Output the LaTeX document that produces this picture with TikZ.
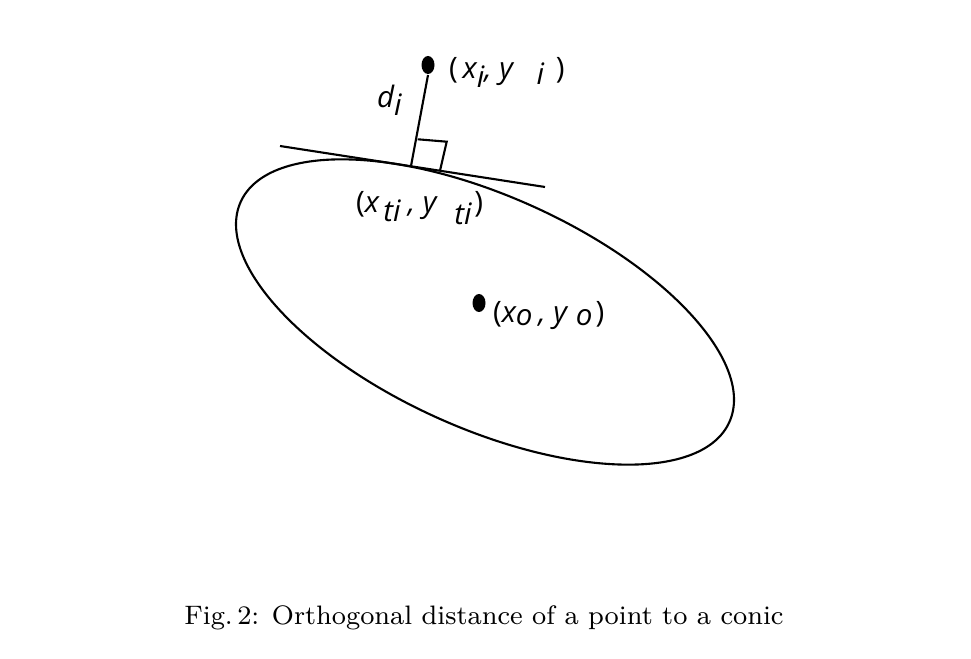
\documentclass[tikz,border=0pt]{standalone}
\usepackage{fontspec}
\usepackage{tikz}
\usetikzlibrary{shapes.geometric}
\newfontfamily\lblfont{Open Sans}
\newcommand{\lsub}[2][-0.3em]{\raisebox{#1}{#2}}
\newcommand{\lp}{{\upshape(}}
\newcommand{\rp}{{\upshape)}}

\tikzset{
    dot/.style={ellipse, fill, inner sep=0pt, minimum width=0.13cm, minimum height=0.18cm},
    lbl/.style={anchor=base west, inner sep=0pt, font=\lblfont\itshape\fontsize{8.4}{9}\selectfont},
}

\begin{document}
\begin{tikzpicture}[line width=0.6pt]
                \useasboundingbox (0,0) rectangle (9.71,-6.59);
                \draw[rotate around={-24.25:(4.85,-3.12)}] (4.85,-3.12) ellipse [x radius=2.68, y radius=1.16];
                \coordinate (tl) at (2.80,-1.46);
                \coordinate (tr) at (5.45,-1.87);
                \draw (tl) -- (tr);
                \coordinate (foot) at (4.11,-1.66);
                \node[dot] (pi) at (4.28,-0.65) {};
                \node[dot] (po) at (4.79,-3.03) {};
                \draw (pi.south) -- (foot);
                \draw (4.177,-1.393) -- (4.467,-1.417) -- (4.40,-1.707);
                \node[lbl] (lpi) at (4.48,-0.79) {\lp\,x\lsub{i}, y\hspace{0.8em}\lsub[-0.2em]{i}\hspace{0.4em}\rp};
                \node[lbl] (ldi) at (3.76,-1.08) {d\lsub[-0.25em]{i}};
                \node[lbl] (lti) at (3.55,-2.13) {\lp x\hspace{0.15em}\lsub{ti}\hspace{0.25em}, y\hspace{0.6em}\lsub[-0.4em]{ti}\hspace{0.1em}\rp};
                \node[lbl] (lpo) at (4.92,-3.23) {\lp x\lsub[-0.1em]{o}\hspace{0.2em}, y\hspace{0.3em}\lsub[-0.1em]{o}\hspace{0.1em}\rp};
                \node[anchor=base, inner sep=0pt, font=\fontsize{7.6}{10}\selectfont] (cap) at (4.84,-6.24) {Fig.\,2: Orthogonal distance of a point to a conic};
            \end{tikzpicture}
\end{document}
